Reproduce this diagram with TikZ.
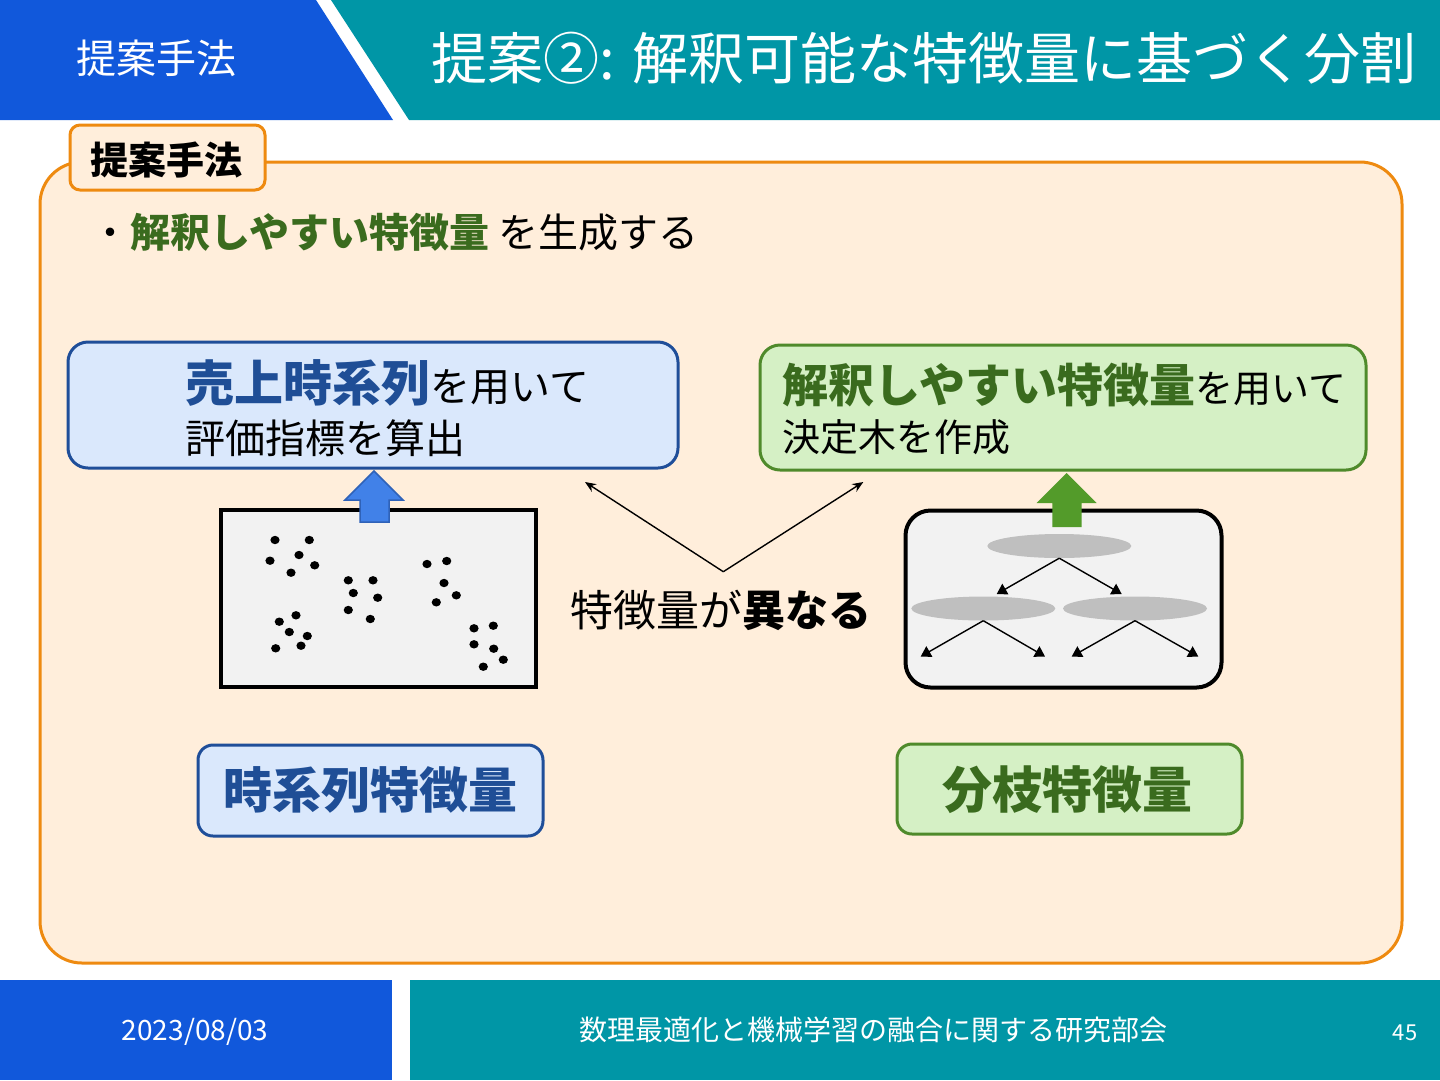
\documentclass[tikz,border=0pt]{standalone}
\usepackage{fontspec}
\setmainfont{Noto Sans CJK JP}
\usetikzlibrary{arrows.meta,shapes.geometric}
\definecolor{hblue}{HTML}{1158DB}
\definecolor{hteal}{HTML}{0096A6}
\definecolor{orng}{HTML}{EE8A10}
\definecolor{cream}{HTML}{FFEEDB}
\definecolor{bbord}{HTML}{1F4E99}
\definecolor{bfill}{HTML}{DAE8FC}
\definecolor{gbord}{HTML}{4F8A2B}
\definecolor{gfill}{HTML}{D5F0C5}
\definecolor{gtext}{HTML}{3A6B1E}
\definecolor{btext}{HTML}{1F4E96}
\definecolor{arrb}{HTML}{4181E8}
\definecolor{arrbd}{HTML}{2F62B8}
\definecolor{arrg}{HTML}{539B2A}
\definecolor{panel}{HTML}{F2F2F2}
\definecolor{ellc}{HTML}{BFBFBF}
\newcommand\fsz[1]{\fontsize{#1}{#1}\selectfont}
\tikzset{
  txt/.style={inner sep=0pt, anchor=base},
  ltxt/.style={inner sep=0pt, anchor=base west},
  bluebox/.style={draw=bbord, fill=bfill, line width=3pt, rounded corners=20pt, inner sep=0pt},
  greenbox/.style={draw=gbord, fill=gfill, line width=3pt, rounded corners=20pt, inner sep=0pt},
  panelbox/.style={draw=black, fill=panel, line width=4pt, inner sep=0pt},
  thinarrow/.style={line width=1.4pt, -{Stealth[length=11pt,width=9pt]}},
  treearrow/.style={line width=1.4pt, -{Triangle[length=10pt,width=12pt]}},
  leaf/.style={ellipse, fill=ellc, inner sep=0pt, minimum width=144pt, minimum height=24pt},
}
\begin{document}
\begin{tikzpicture}[x=1pt,y=-1pt]
\path[use as bounding box, fill=white] (0,0) rectangle (1440,1080);
% header
\fill[hblue] (0,0) -- (316,0) -- (393,120) -- (0,120) -- cycle;
\fill[hteal] (331,0) -- (1440,0) -- (1440,120) -- (409,120) -- cycle;
\node[txt, font=\fsz{40}, text=white] (sec) at (156,73) {提案手法};
\node[txt, font=\fsz{56}, text=white] (title) at (924,79) {提案②: 解釈可能な特徴量に基づく分割};
% footer
\fill[hblue] (0,980) rectangle (392,1080);
\fill[hteal] (410,980) rectangle (1440,1080);
\node[txt, font=\fsz{28}, text=white] (date) at (195,1040) {2023/08/03};
\node[txt, font=\fsz{28}, text=white] (conf) at (873,1040.5) {数理最適化と機械学習の融合に関する研究部会};
\node[txt, font=\fsz{22}, text=white] (page) at (1405,1040) {45};
% main panel
\node[draw=orng, fill=cream, line width=3pt, rounded corners=42pt, minimum width=1362pt, minimum height=801pt, inner sep=0pt] (main) at (721,562.5) {};
\node[draw=orng, fill=cream, line width=3pt, rounded corners=10pt, minimum width=195pt, minimum height=65pt, inner sep=0pt] (tab) at (167.5,157.5) {};
\node[txt, font=\fsz{38}\bfseries] (tabt) at (166,174.5) {提案手法};
\node[ltxt, font=\fsz{40}] (bullet) at (90,247) {・\textcolor{gtext}{\bfseries 解釈しやすい特徴量} を生成する};
% top boxes
\node[bluebox, minimum width=610pt, minimum height=126pt] (bb) at (373,405) {};
\node[ltxt, font=\fsz{40}] (bb1) at (185,401) {\textcolor{btext}{\fsz{49}\bfseries 売上時系列}を用いて};
\node[ltxt, font=\fsz{40}] (bb2) at (185,453) {評価指標を算出};
\node[greenbox, minimum width=606pt, minimum height=125pt] (gb) at (1063,407.5) {};
\node[ltxt, font=\fsz{38}] (gb1) at (782,402) {\textcolor{gtext}{\fsz{46}\bfseries 解釈しやすい特徴量}を用いて};
\node[ltxt, font=\fsz{38}] (gb2) at (782,451.5) {決定木を作成};
% scatter panel
\node[panelbox, minimum width=315pt, minimum height=177pt] (scat) at (378.5,598.5) {};
\foreach \px/\py in {275/540, 309.3/540, 270/560.7, 299/555, 314.7/565.3, 291/572.7,
  348.3/580.3, 373/580.3, 353.3/593, 377.7/597.7, 348.3/610, 370.3/619,
  427/564, 446.7/561, 444/583, 456.3/595.3, 436.3/602.3,
  296/615.3, 279.3/621.7, 289.3/632, 307.3/636, 275.7/648.3, 301/645.7,
  474/628.3, 493.3/625.7, 474/644.3, 493.7/648.7, 503.3/659.7, 483.3/666.7}
  {\fill[black] (\px,\py) ellipse [x radius=4.6, y radius=4.2];}
\draw[fill=arrb, draw=arrbd, line width=1.5pt, line join=miter] (374,471) -- (345,500) -- (360,500) -- (360,522) -- (389,522) -- (389,500) -- (403,500) -- cycle;
% tree panel
\node[panelbox, rounded corners=25pt, minimum width=316pt, minimum height=177pt] (tree) at (1063.5,599) {};
\fill[arrg] (1066.7,473) -- (1036.7,503) -- (1052.3,503) -- (1052.3,527) -- (1081.7,527) -- (1081.7,503) -- (1096.7,503) -- cycle;
\node[leaf] (e1) at (1059.3,546) {};
\node[leaf] (e2) at (983.3,608.5) {};
\node[leaf] (e3) at (1135,608.5) {};
\coordinate (a1) at (996.7,594);
\coordinate (a2) at (1121.7,594);
\coordinate (b1) at (920.7,656.5);
\coordinate (b2) at (1045,656.5);
\coordinate (b3) at (1071.7,656.5);
\coordinate (b4) at (1198.3,656.5);
\draw[treearrow] (e1.south) -- (a1);
\draw[treearrow] (e1.south) -- (a2);
\draw[treearrow] (e2.south) -- (b1);
\draw[treearrow] (e2.south) -- (b2);
\draw[treearrow] (e3.south) -- (b3);
\draw[treearrow] (e3.south) -- (b4);
% V arrows
\coordinate (apex) at (723.3,571.7);
\coordinate (tl) at (585,482);
\coordinate (tr) at (863.3,482);
\draw[thinarrow] (apex) -- (tl);
\draw[thinarrow] (apex) -- (tr);
\node[txt, font=\fsz{43}] (diff) at (721,626) {特徴量が\textbf{異なる}};
% bottom boxes
\node[bluebox, rounded corners=15pt, minimum width=345pt, minimum height=91pt] (tsf) at (370.5,790.5) {};
\node[txt, font=\fsz{49}\bfseries, text=btext] (tsft) at (370.5,808.5) {時系列特徴量};
\node[greenbox, rounded corners=15pt, minimum width=345pt, minimum height=90pt] (brf) at (1069.5,789) {};
\node[txt, font=\fsz{50}\bfseries, text=gtext] (brft) at (1067,808) {分枝特徴量};
\end{tikzpicture}
\end{document}
